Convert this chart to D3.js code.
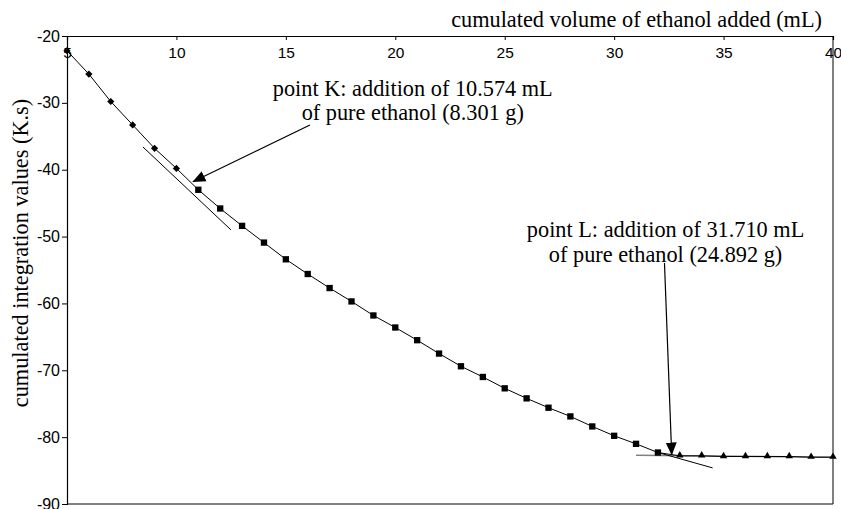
<!DOCTYPE html>
<html>
<head>
<meta charset="utf-8">
<script src="https://cdn.jsdelivr.net/npm/d3@7/dist/d3.min.js"></script>
<style>
  html, body { margin: 0; padding: 0; background: #fff; }
  svg { display: block; }
</style>
</head>
<body>
<svg id="chart" width="841" height="509"></svg>
<script>
// ---- data ----
const diamondX = [5, 6, 7, 8, 9, 10];
const diamondY = [-22.2, -25.7, -29.8, -33.3, -36.8, -39.8];

const squareX = [11, 12, 13, 14, 15, 16, 17, 18, 19, 20, 21, 22, 23, 24, 25, 26, 27, 28, 29, 30, 31, 32];
const squareY = [-43.0, -45.8, -48.4, -50.9, -53.4, -55.6, -57.7, -59.7, -61.8, -63.6, -65.5, -67.5,
                 -69.4, -71.0, -72.7, -74.2, -75.6, -76.9, -78.4, -79.8, -81.0, -82.3];

const triangleX = [33, 34, 35, 36, 37, 38, 39, 40];
const triangleY = [-82.8, -82.8, -82.9, -82.9, -82.9, -82.9, -83.0, -83.0];

// tangent / fit lines [x1, y1, x2, y2]
const tangentK = [8.47, -36.6, 12.49, -49.0];
const tangentL = [32.0, -82.3, 34.5, -84.6];
const plateauFit = [31.0, -82.7, 40.0, -83.0];

const xTicks = [5, 10, 15, 20, 25, 30, 35, 40];
const yTicks = [-20, -30, -40, -50, -60, -70, -80, -90];

const xTitle = "cumulated volume of ethanol added (mL)";
const yTitle = "cumulated integration values (K.s)";

const labelK = ["point K: addition of 10.574 mL", "of pure ethanol (8.301 g)"];
const labelL = ["point L: addition of 31.710 mL", "of pure ethanol (24.892 g)"];
// annotation anchors in data units: text centre x, baseline y's; arrow from -> to
const annK = { tx: 20.8, ty: [-28.97, -32.56], from: [16.1, -33.3], to: [10.75, -41.8] };
const annL = { tx: 32.35, ty: [-50.06, -53.8], from: [32.3, -53.95], to: [32.63, -82.67] };

// ---- layout ----
const L = 67, R = 833, T = 36, B = 504;
const x = d3.scaleLinear().domain([5, 40]).range([L, R]);
const y = d3.scaleLinear().domain([-90, -20]).range([B, T]);

const svg = d3.select("#chart");
const sans = "'Liberation Sans', Arial, sans-serif";
const serif = "'Liberation Serif', 'Times New Roman', serif";
const serifSize = 22.3;

svg.append("defs").append("marker")
  .attr("id", "arrow")
  .attr("markerUnits", "userSpaceOnUse")
  .attr("viewBox", "0 -6 13 12")
  .attr("markerWidth", 13).attr("markerHeight", 12)
  .attr("refX", 12.5).attr("refY", 0)
  .attr("orient", "auto")
  .append("path").attr("d", "M0,-5.5L13,0L0,5.5Z").attr("fill", "#000");

// bottom border (grey) & right border
svg.append("line").attr("x1", L).attr("x2", R).attr("y1", B).attr("y2", B)
  .attr("stroke", "#808080").attr("stroke-width", 2);
svg.append("line").attr("x1", R).attr("x2", R).attr("y1", T).attr("y2", B)
  .attr("stroke", "#000").attr("stroke-width", 1);

// y axis
const yAxis = svg.append("g").attr("transform", `translate(${L},0)`)
  .call(d3.axisLeft(y).tickValues(yTicks).tickSize(5).tickPadding(2).tickFormat(d => String(d)));
yAxis.select(".domain").attr("stroke", "#000").attr("stroke-width", 1.2);
yAxis.selectAll("text").attr("font-family", sans).attr("font-size", 16).attr("fill", "#000");

// x axis at top, ticks pointing down, labels inside
const xAxis = svg.append("g").attr("transform", `translate(0,${T})`)
  .call(d3.axisBottom(x).tickValues(xTicks).tickSize(4).tickPadding(7).tickFormat(d => String(d)));
xAxis.select(".domain").attr("stroke", "#000").attr("stroke-width", 1.2);
xAxis.selectAll("text").attr("font-family", sans).attr("font-size", 15.5).attr("fill", "#000");

// axis titles
svg.append("text").attr("x", R - 11).attr("y", 27)
  .attr("text-anchor", "end").attr("font-family", serif).attr("font-size", serifSize)
  .text(xTitle);
svg.append("text")
  .attr("transform", `translate(28,253) rotate(-90)`)
  .attr("text-anchor", "middle").attr("font-family", serif).attr("font-size", serifSize)
  .text(yTitle);

// fit lines
const seg = (a, color, w) => svg.append("line")
  .attr("x1", x(a[0])).attr("y1", y(a[1])).attr("x2", x(a[2])).attr("y2", y(a[3]))
  .attr("stroke", color).attr("stroke-width", w);
seg(plateauFit, "#808080", 1.6);
seg(tangentK, "#000", 1);
seg(tangentL, "#000", 1);

// data polyline
const allPts = [
  ...diamondX.map((d, i) => [d, diamondY[i]]),
  ...squareX.map((d, i) => [d, squareY[i]]),
  ...triangleX.map((d, i) => [d, triangleY[i]])
];
svg.append("path").datum(allPts)
  .attr("fill", "none").attr("stroke", "#000").attr("stroke-width", 1)
  .attr("d", d3.line().x(d => x(d[0])).y(d => y(d[1])));

// markers
svg.append("g").selectAll("path").data(diamondX.map((d, i) => [d, diamondY[i]])).join("path")
  .attr("d", d3.symbol(d3.symbolSquare, 26)())
  .attr("transform", d => `translate(${x(d[0])},${y(d[1])}) rotate(45)`)
  .attr("fill", "#000");
svg.append("g").selectAll("path").data(squareX.map((d, i) => [d, squareY[i]])).join("path")
  .attr("d", d3.symbol(d3.symbolSquare, 40)())
  .attr("transform", d => `translate(${x(d[0])},${y(d[1])})`)
  .attr("fill", "#000");
svg.append("g").selectAll("path").data(triangleX.map((d, i) => [d, triangleY[i]])).join("path")
  .attr("d", d3.symbol(d3.symbolTriangle, 24)())
  .attr("transform", d => `translate(${x(d[0])},${y(d[1]) - 0.5})`)
  .attr("fill", "#000");

// annotations
function annotate(a, lines) {
  lines.forEach((t, i) => svg.append("text")
    .attr("x", x(a.tx)).attr("y", y(a.ty[i]))
    .attr("text-anchor", "middle").attr("font-family", serif).attr("font-size", serifSize)
    .text(t));
  svg.append("line")
    .attr("x1", x(a.from[0])).attr("y1", y(a.from[1]))
    .attr("x2", x(a.to[0])).attr("y2", y(a.to[1]))
    .attr("stroke", "#000").attr("stroke-width", 1.2)
    .attr("marker-end", "url(#arrow)");
}
annotate(annK, labelK);
annotate(annL, labelL);
</script>
</body>
</html>
